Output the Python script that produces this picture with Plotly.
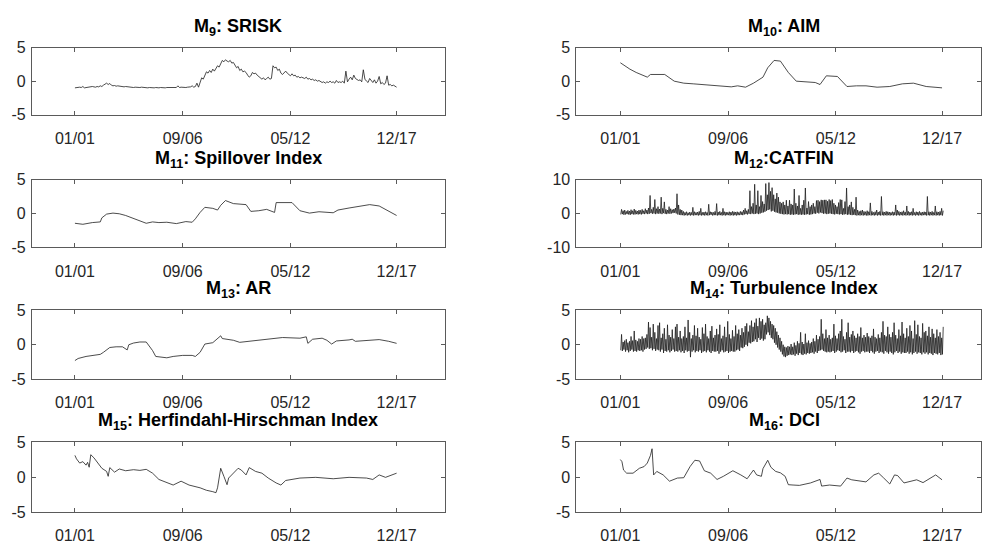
import plotly.graph_objects as go

# ---------------- data (months since Jan 2001) ----------------
tick_months = [0, 68, 136, 203]
tick_labels = ["01/01", "09/06", "05/12", "12/17"]

titles = [
    "M<sub>9</sub>: SRISK", "M<sub>10</sub>: AIM",
    "M<sub>11</sub>: Spillover Index", "M<sub>12</sub>:CATFIN",
    "M<sub>13</sub>: AR", "M<sub>14</sub>: Turbulence Index",
    "M<sub>15</sub>: Herfindahl-Hirschman Index", "M<sub>16</sub>: DCI",
]

# M9 SRISK, monthly
srisk = [
    -1.0, -0.95, -1.0, -0.9, -0.95, -0.8, -1.0, -0.95, -0.9, -0.85, -0.9, -0.8,
    -0.85, -0.9, -0.8, -0.85, -0.7, -0.8, -0.6, -0.5, -0.3, -0.5, -0.35, -0.6,
    -0.7, -0.65, -0.75, -0.7, -0.75, -0.8, -0.8, -0.85, -0.8, -0.85, -0.9, -0.85,
    -0.9, -0.95, -0.9, -0.95, -1.0, -0.95, -0.9, -0.95, -1.0, -0.95, -1.0, -0.95,
    -1.0, -0.95, -1.0, -0.95, -1.0, -1.0, -0.95, -1.0, -0.95, -1.0, -0.95, -0.95,
    -0.95, -1.0, -0.95, -0.9, -0.95, -0.7, -0.95, -0.9, -0.95, -0.9, -0.95, -0.9,
    -0.9, -0.85, -0.7, -0.9, -0.8, -0.3, -0.9, -0.2, 0.5, 0.3, 1.0, 1.4,
    1.2, 1.6, 1.3, 1.8, 1.5, 2.0, 2.3, 2.1, 2.6, 3.1, 2.9, 3.2,
    3.0, 2.9, 3.1, 2.7, 2.8, 2.4, 2.0, 2.2, 1.6, 1.8, 1.4, 1.5,
    1.3, 0.9, 0.6, 0.8, 1.3, 1.1, 1.2, 0.9, 0.7, 0.4, 0.3, 0.5,
    0.2, 0.4, 0.6, 0.3, 0.4, 2.3, 2.0, 2.1, 1.6, 1.8, 1.2, 1.0,
    1.3, 1.5, 1.2, 1.0, 0.8, 1.1, 0.8, 0.9, 0.6, 0.7, 0.5, 0.6,
    0.5, 0.4, 0.6, 0.3, 0.4, 0.2, 0.3, 0.1, 0.2, 0.0, 0.1, -0.1,
    -0.2, -0.1, -0.3, -0.1, -0.2, 0.0, -0.2, -0.1, -0.3, 0.1, -0.2, -0.1,
    -0.2, 0.0, -0.3, 1.5, -0.1, 0.3, 0.6, 0.2, 0.9, 0.4, 0.3, 0.1,
    0.2, -0.1, 1.7, 0.3, 0.0, -0.2, 0.4, 0.1, -0.2, 0.2, -0.3, 0.0,
    0.7, -0.4, -0.2, -0.5, -0.3, 0.8, -0.6, -0.5, -0.7, -0.6, -0.8, -0.9,
]

# M10 AIM
aim_m = [0, 6, 10, 17, 19, 23, 27, 28, 34, 40, 46, 55, 63, 70, 74, 79, 84, 90, 93, 97,
         101, 106, 111, 118, 123, 126, 130, 137, 143, 149, 155, 162, 170, 178, 185, 193, 203]
aim_v = [2.75, 1.8, 1.3, 0.6, 1.0, 1.0, 1.05, 1.0, 0.0, -0.3, -0.4, -0.6, -0.7, -0.85, -0.7,
         -0.9, -0.3, 0.6, 2.0, 3.1, 3.0, 1.3, 0.0, -0.1, -0.2, -0.5, 0.8, 0.7, -0.8, -0.7,
         -0.7, -0.9, -0.8, -0.4, -0.3, -0.8, -1.0]

# M11 Spillover index
spill_m = [0, 5, 11, 16, 17, 20, 24, 28, 32, 37, 41, 45, 49, 53, 58, 64, 70, 74, 76, 79,
           82, 87, 90, 92, 95, 100, 108, 111, 116, 121, 126, 127, 137, 142, 148, 154, 163,
           166, 173, 179, 186, 192, 196, 203]
spill_v = [-1.45, -1.6, -1.35, -1.25, -0.65, -0.1, 0.05, -0.05, -0.3, -0.75, -1.1, -1.45,
           -1.25, -1.35, -1.3, -1.5, -1.2, -1.3, -0.8, 0.15, 0.9, 0.75, 0.5, 1.2, 1.9, 1.45,
           1.3, 0.3, 0.4, 0.6, 0.15, 1.6, 1.6, 0.4, 0.05, 0.25, 0.1, 0.5, 0.8, 1.0, 1.3, 1.1,
           0.6, -0.3]

# M12 CATFIN, monthly low / high
catfin_hi = [
    1.2, 0.8, 1.0, 0.6, 0.9, 0.7, 1.1, 0.8, 1.3, 0.9, 0.7, 1.0,
    0.9, 1.2, 0.8, 1.4, 1.0, 1.6, 5.3, 1.2, 1.8, 4.1, 1.4, 2.0,
    1.3, 4.8, 1.5, 3.4, 1.2, 1.0, 2.0, 1.4, 1.1, 1.3, 1.6, 5.8,
    2.5, 1.2, 1.0, 0.6, 0.3, 0.5, 0.2, 0.4, 0.3, 1.8, 0.5, 0.3,
    0.4, 0.6, 1.5, 0.3, 0.4, 0.5, 0.3, 2.7, 0.5, 0.4, 0.3, 0.6,
    2.9, 0.4, 0.6, 0.3, 1.5, 0.5, 0.4, 0.3, 0.5, 0.4, 0.6, 0.5,
    0.4, 0.5, 0.3, 0.6, 0.5, 1.0, 1.5, 0.8, 1.2, 6.7, 2.0, 3.0,
    8.6, 2.5, 6.7, 2.0, 5.3, 3.5, 2.8, 8.8, 5.5, 9.1, 6.5, 7.6,
    5.5, 4.3, 6.0, 4.8, 3.4, 3.0, 3.4, 2.5, 3.9, 2.2, 3.9, 2.8,
    2.5, 7.2, 3.0, 2.2, 5.3, 1.5, 2.5, 3.9, 7.5, 1.6, 3.5, 2.0,
    2.5, 3.0, 2.0, 3.8, 3.9, 3.5, 4.0, 3.9, 4.0, 4.0, 3.6, 4.1,
    3.8, 4.1, 3.0, 2.5, 2.0, 3.2, 4.1, 4.0, 1.5, 3.5, 7.5, 2.0,
    2.5, 3.4, 1.8, 1.2, 4.8, 1.0, 0.6, 0.8, 1.0, 0.6, 0.5, 0.8,
    0.5, 3.1, 0.6, 0.3, 0.5, 1.0, 0.4, 0.6, 5.0, 0.5, 0.4, 0.6,
    0.5, 0.4, 0.3, 0.5, 0.4, 2.5, 1.0, 0.6, 0.4, 0.5, 0.8, 0.4,
    2.2, 0.6, 0.4, 0.5, 1.5, 0.3, 0.5, 0.4, 0.6, 0.3, 0.4, 0.5,
    0.4, 5.0, 0.5, 0.4, 0.6, 0.3, 2.2, 0.5, 0.4, 0.6, 1.5, 0.8,
]
catfin_lo = [
    -0.3, -0.2, -0.4, -0.3, -0.2, -0.3, -0.4, -0.2, -0.3, -0.3, -0.2, -0.3,
    -0.2, -0.3, -0.1, -0.2, 0.0, -0.2, -0.1, 0.1, -0.1, 0.0, -0.2, 0.0,
    -0.1, 0.0, -0.2, 0.1, -0.1, -0.2, 0.0, -0.1, 0.0, 0.1, 0.2, 0.0,
    -0.3, -0.4, -0.5, -0.5, -0.6, -0.5, -0.6, -0.5, -0.6, -0.5, -0.6, -0.5,
    -0.5, -0.6, -0.5, -0.6, -0.5, -0.6, -0.5, -0.6, -0.5, -0.4, -0.6, -0.5,
    -0.5, -0.6, -0.5, -0.5, -0.6, -0.5, -0.6, -0.5, -0.5, -0.6, -0.5, -0.6,
    -0.5, -0.6, -0.5, -0.5, -0.4, -0.5, -0.3, -0.2, -0.3, -0.1, -0.2, 0.0,
    -0.2, -0.1, 0.0, -0.2, 0.0, 0.2, 0.3, 0.5, 0.8, 1.0, 1.2, 0.6,
    0.8, 0.5, 0.3, 0.2, 0.0, -0.1, -0.2, -0.3, -0.2, -0.3, -0.2, -0.4,
    -0.3, -0.4, -0.3, -0.2, -0.4, -0.3, -0.4, -0.3, -0.4, -0.3, -0.2, -0.4,
    -0.3, -0.2, 0.0, -0.1, 0.2, 0.0, 0.3, 0.1, -0.1, 0.0, -0.2, -0.1,
    0.0, -0.1, -0.2, -0.3, -0.1, -0.2, -0.3, -0.2, -0.4, -0.3, -0.2, -0.4,
    -0.3, -0.4, -0.5, -0.4, -0.5, -0.6, -0.5, -0.6, -0.5, -0.6, -0.5, -0.6,
    -0.6, -0.5, -0.6, -0.5, -0.6, -0.5, -0.6, -0.5, -0.6, -0.5, -0.6, -0.5,
    -0.6, -0.5, -0.6, -0.5, -0.6, -0.5, -0.6, -0.5, -0.6, -0.5, -0.6, -0.5,
    -0.6, -0.5, -0.6, -0.5, -0.6, -0.5, -0.6, -0.5, -0.6, -0.5, -0.6, -0.5,
    -0.5, -0.6, -0.5, -0.6, -0.5, -0.6, -0.5, -0.6, -0.5, -0.6, -0.5, -0.6,
]

# M13 AR
ar_m = [0, 2, 7, 16, 18, 22, 26, 30, 33, 34, 37, 41, 45, 46, 49, 51, 58, 62, 68, 74,
        76, 79, 82, 87, 89, 92, 93, 100, 104, 112, 121, 131, 142, 146, 147, 150, 156, 159,
        162, 165, 173, 175, 177, 184, 192, 198, 203]
ar_v = [-2.3, -2.0, -1.7, -1.4, -1.1, -0.4, -0.3, -0.3, -0.75, 0.0, 0.25, 0.4, 0.4, 0.1,
        -0.85, -1.7, -1.9, -1.7, -1.55, -1.55, -1.7, -1.1, 0.1, 0.3, 0.65, 1.3, 0.9, 0.65,
        0.35, 0.55, 0.8, 1.05, 0.95, 1.15, 0.2, 0.8, 0.95, 0.65, 0.1, 0.55, 0.7, 0.8, 0.5,
        0.65, 0.75, 0.5, 0.2]

# M14 Turbulence index, monthly low / high
turb_hi = [
    1.5, 0.4, 0.6, 0.8, 0.3, 0.5, 1.2, 0.6, 2.0, 0.7, 0.5, 0.9,
    0.8, 1.2, 0.9, 1.0, 1.5, 3.3, 2.5, 1.1, 3.0, 1.8, 0.9, 2.8,
    3.2, 1.0, 1.6, 2.4, 0.8, 2.9, 1.4, 1.1, 2.2, 0.9, 2.6, 3.0,
    1.1, 2.0, 0.9, 1.2, 2.6, 1.0, 3.6, 1.8, 0.9, 1.4, 2.8, 1.3,
    2.4, 1.1, 0.8, 2.5, 1.6, 3.0, 1.2, 0.9, 2.0, 2.7, 1.0, 1.4,
    2.3, 1.5, 2.9, 0.9, 1.3, 2.6, 1.1, 3.4, 1.5, 0.9, 2.1, 1.2,
    2.8, 1.6, 2.2, 1.4, 2.4, 1.8, 2.7, 3.1, 1.9, 2.8, 3.5, 2.6,
    3.2, 3.8, 2.7, 3.9, 3.4, 3.7, 2.9, 3.2, 4.2, 3.9, 3.4, 3.0,
    2.8, 2.4, 1.9, 1.4, 1.0, 0.5, 0.0, -0.3, -0.4, -0.2, -0.3, 0.1,
    -0.3, 0.3, -0.1, 0.5, 0.2, 1.8, 0.4, 0.1, 1.6, 0.3, 0.6, 0.2,
    0.4, 0.9, 0.5, 1.4, 0.8, 1.2, 3.7, 1.6, 0.9, 2.2, 1.0, 1.4,
    0.8, 1.0, 3.0, 1.3, 0.9, 1.6, 2.0, 3.7, 1.2, 0.8, 1.8, 3.2,
    1.1, 1.5, 2.0, 1.3, 1.0, 1.6, 1.2, 2.5, 1.0, 1.4, 1.1, 1.7,
    1.2, 1.0, 1.3, 2.3, 1.1, 0.9, 1.5, 1.0, 1.8, 3.4, 1.4, 1.2,
    2.6, 1.5, 1.1, 1.8, 3.2, 1.4, 0.9, 2.2, 1.3, 3.3, 1.6, 1.0,
    2.4, 1.2, 2.8, 2.0, 0.9, 3.5, 1.5, 2.9, 1.2, 1.0, 3.1, 1.8,
    2.0, 1.3, 2.6, 1.1, 2.3, 1.6, 1.0, 2.2, 1.2, 1.8, 1.0, 2.6,
]
turb_lo = [
    -0.8, -0.9, -0.7, -1.0, -0.8, -1.1, -0.9, -0.7, -1.0, -0.9, -1.0, -0.8,
    -0.9, -0.8, -1.0, -0.7, -0.6, -0.4, -0.6, -0.5, -0.8, -0.6, -0.9, -0.7,
    -0.8, -1.0, -0.7, -1.2, -0.9, -1.0, -0.8, -1.1, -0.9, -0.7, -1.0, -0.9,
    -1.0, -0.8, -1.1, -0.9, -1.2, -0.8, -1.0, -0.9, -1.8, -1.0, -0.8, -1.1,
    -0.9, -1.0, -0.8, -1.2, -1.0, -0.9, -1.1, -0.8, -1.0, -1.2, -0.9, -1.0,
    -1.0, -0.9, -1.3, -1.0, -0.8, -1.1, -1.0, -0.9, -1.2, -1.0, -0.9, -1.0,
    -1.0, -0.8, -0.7, -0.9, -0.4, -0.5, -0.3, 0.0, -0.2, 0.3, 0.2, 0.4,
    0.5, 0.8, 0.4, 1.0, 0.7, 0.9, 0.6, 0.8, 1.5, 1.8, 1.4, 1.0,
    0.8, 0.3, 0.0, -0.4, -0.7, -1.0, -1.4, -1.7, -1.8, -1.6, -1.5, -1.4,
    -1.5, -1.4, -1.6, -1.3, -1.5, -1.2, -1.4, -1.5, -1.3, -1.4, -1.2, -1.3,
    -1.2, -1.1, -1.3, -1.0, -1.2, -0.9, -0.8, -0.7, -0.9, -1.0, -1.1, -1.0,
    -1.1, -1.0, -0.9, -1.2, -1.0, -0.8, -0.9, -1.1, -1.0, -0.8, -1.2, -1.0,
    -1.0, -1.1, -0.9, -1.2, -1.0, -0.9, -1.1, -1.3, -1.0, -0.9, -1.1, -1.0,
    -1.0, -1.2, -0.9, -1.1, -1.3, -1.0, -0.9, -1.2, -1.0, -1.1, -1.3, -0.9,
    -1.1, -1.3, -1.0, -1.2, -1.4, -1.1, -0.9, -1.2, -1.0, -1.3, -1.1, -1.2,
    -1.2, -1.0, -1.3, -1.1, -1.4, -1.2, -1.0, -1.3, -1.1, -1.2, -1.4, -1.1,
    -1.3, -1.1, -1.4, -1.2, -1.3, -1.5, -1.2, -1.3, -1.4, -1.2, -1.5, -1.4,
]

# M15 Herfindahl-Hirschman index
hhi_m = [0, 1, 3, 5, 7, 8, 9, 10, 12, 14, 17, 20, 21, 22, 25, 28, 32, 37, 41, 45,
         49, 53, 58, 62, 67, 72, 79, 83, 87, 89, 90, 91, 92, 94, 96, 97, 100, 103, 105, 108,
         110, 114, 118, 122, 127, 130, 133, 137, 142, 152, 163, 173, 184, 188, 192, 196, 203]
hhi_v = [3.1, 2.6, 2.0, 2.2, 1.7, 2.1, 1.4, 3.2, 2.75, 2.2, 1.25, 0.8, 0.1, 1.35, 0.7, 1.15,
         0.9, 1.05, 0.95, 1.1, 0.55, -0.35, -0.85, -1.15, -0.6, -1.15, -1.55, -1.9, -2.1,
         -2.25, -1.55, -0.15, 1.25, 0.1, -1.1, -0.15, 0.55, 1.25, 1.0, 0.3, 1.35, 0.8, 0.55,
         -0.15, -0.85, -1.15, -0.5, -0.35, -0.15, -0.05, -0.25, -0.05, -0.15, -0.35, 0.3,
         -0.05, 0.55]

# M16 DCI
dci_m = [0, 1, 2, 4, 8, 12, 15, 17, 19, 20, 21, 23, 27, 31, 36, 40, 44, 47, 50, 53,
         57, 61, 65, 71, 76, 80, 84, 86, 89, 90, 93, 95, 98, 101, 104, 106, 109, 113, 120, 126,
         127, 132, 139, 143, 146, 149, 155, 160, 163, 166, 170, 173, 175, 179, 183, 187, 191,
         195, 199, 203]
dci_v = [2.5, 2.2, 1.0, 0.55, 0.55, 1.25, 1.5, 2.0, 3.1, 4.05, 0.3, 0.8, 0.3, -0.6, -0.15,
         -0.1, 1.5, 2.4, 2.3, 0.9, 0.55, -0.35, 0.1, 0.9, 0.3, -0.25, 1.0, 0.3, 0.1, 1.2,
         2.4, 1.4, 0.8, 0.6, 0.1, -1.1, -1.15, -1.2, -0.85, -0.35, -1.3, -1.15, -1.3, -0.15,
         -0.4, -0.5, -0.7, 0.3, 0.55, -0.1, -1.0, 0.3, 0.2, -0.85, -0.6, -0.4, -0.8, -0.3,
         0.3, -0.4]


def lohi(lo, hi):
    xs, ys = [], []
    for m, (a, b) in enumerate(zip(lo, hi)):
        xs += [m + 0.25, m + 0.75]
        ys += [a, b]
    return xs, ys


series = [
    (list(range(len(srisk))), srisk),
    (aim_m, aim_v),
    (spill_m, spill_v),
    lohi(catfin_lo, catfin_hi),
    (ar_m, ar_v),
    lohi(turb_lo, turb_hi),
    (hhi_m, hhi_v),
    (dci_m, dci_v),
]
yranges = [[-5, 5]] * 3 + [[-10, 10]] + [[-5, 5]] * 4

# ---------------- layout ----------------
W, H = 982, 549
col_px = [(32, 445), (577, 982)]
row_px = [(41, 110), (177, 247), (312, 383), (448, 520)]
FONT = "Liberation Sans, Arial, Helvetica, sans-serif"
LINE = "#5a5a5a"
TXT = "#262626"

fig = go.Figure()
layout = dict(
    width=W, height=H, margin=dict(l=0, r=0, t=0, b=0, pad=0),
    paper_bgcolor="white", plot_bgcolor="white", showlegend=False,
    font=dict(family=FONT, color=TXT, size=16),
)
annotations = []
for i, (xs, ys) in enumerate(series):
    r, c = divmod(i, 2)
    k = "" if i == 0 else str(i + 1)
    x0, x1 = col_px[c]
    y0, y1 = row_px[r]
    t0 = 75 if c == 0 else 621
    ppm = 322 / 203.0
    xr = [(x0 - t0) / ppm, (x1 - t0) / ppm]
    fig.add_trace(go.Scatter(x=xs, y=ys, mode="lines",
                             line=dict(color="#1e1e1e", width=0.8),
                             xaxis="x" + k, yaxis="y" + k, hoverinfo="skip"))
    yr = yranges[i]
    layout["xaxis" + k] = dict(
        domain=[x0 / W, x1 / W], anchor="y" + k, range=xr,
        tickmode="array", tickvals=tick_months, ticktext=tick_labels,
        ticks="inside", ticklen=4, tickcolor=LINE, tickwidth=1,
        showline=True, linecolor=LINE, linewidth=1, mirror="ticks",
        showgrid=False, zeroline=False, ticklabelstandoff=9,
        tickfont=dict(size=16, color=TXT, family=FONT),
    )
    layout["yaxis" + k] = dict(
        domain=[1 - y1 / H, 1 - y0 / H], anchor="x" + k, range=yr,
        tickmode="array", tickvals=[yr[0], 0, yr[1]],
        ticktext=["-%d" % abs(yr[0]), "0", "%d" % yr[1]],
        ticks="inside", ticklen=4, tickcolor=LINE, tickwidth=1,
        showline=True, linecolor=LINE, linewidth=1, mirror="ticks",
        showgrid=False, zeroline=False, ticklabelstandoff=2,
        tickfont=dict(size=16, color=TXT, family=FONT),
    )
    cx = (x0 + x1) / 2 if c == 0 else 785
    annotations.append(dict(
        text="<b>" + titles[i] + "</b>", xref="paper", yref="paper",
        x=cx / W, y=1 - (y0 - 21) / H, xanchor="center", yanchor="middle",
        showarrow=False, font=dict(size=18, color="#000000", family=FONT),
    ))
layout["annotations"] = annotations
fig.update_layout(**layout)
fig.write_html("out.html")
